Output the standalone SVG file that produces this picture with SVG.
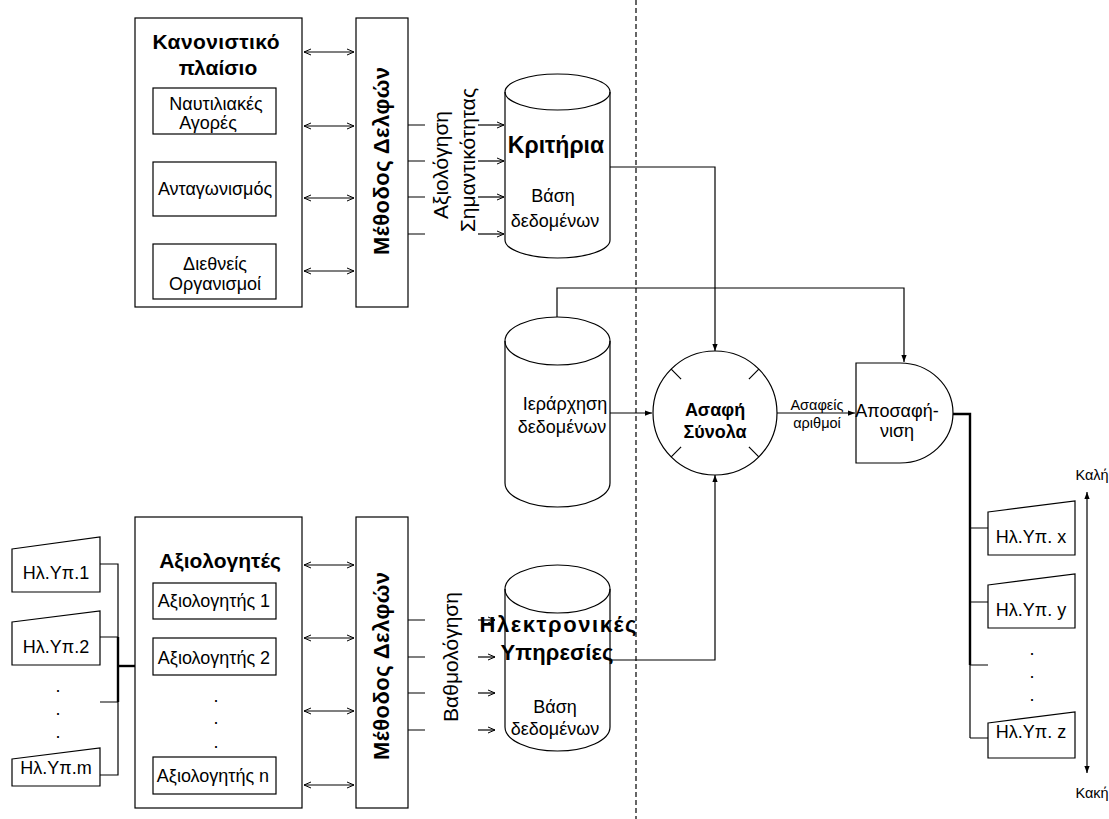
<svg xmlns="http://www.w3.org/2000/svg" width="1109" height="819" viewBox="0 0 1109 819">
  <style>
    .box { fill: #fff; stroke: #000; stroke-width: 1.2; }
    .ln { fill: none; stroke: #000; stroke-width: 1.2; }
    .thick { fill: none; stroke: #000; stroke-width: 2.4; }
    .dash { fill: none; stroke: #000; stroke-width: 1.2; stroke-dasharray: 5 3; }
    text { font-family: "Liberation Sans", Arial, sans-serif; fill: #000; }
    .t { font-size: 18px; text-anchor: middle; }
    .b { font-weight: bold; text-anchor: middle; }
    .s { font-size: 14.5px; text-anchor: middle; }
  </style>
  <defs>
    <marker id="v" viewBox="0 0 8 8" refX="8" refY="4" markerWidth="8" markerHeight="8" markerUnits="userSpaceOnUse" orient="auto-start-reverse">
      <path d="M1,1 L8,4 L1,7" fill="none" stroke="#000" stroke-width="1"/>
    </marker>
    <marker id="f" viewBox="0 0 8 8" refX="8" refY="4" markerWidth="7" markerHeight="7" markerUnits="userSpaceOnUse" orient="auto-start-reverse">
      <path d="M0,1 L8,4 L0,7 z" fill="#000"/>
    </marker>
  </defs>

  <!-- dashed divider -->
  <line class="dash" x1="636" y1="0" x2="636" y2="819"/>

  <!-- regulatory framework -->
  <g id="regulatory">
    <rect class="box" x="135" y="18" width="167" height="289"/>
    <text class="b" font-size="21" x="216" y="49" textLength="127" lengthAdjust="spacing">Κανονιστικό</text>
    <text class="b" font-size="21" x="218" y="75">πλαίσιο</text>
    <rect class="box" x="153" y="88" width="123" height="46"/>
    <text class="t" x="216" y="110">Ναυτιλιακές</text>
    <text class="t" x="208" y="129">Αγορές</text>
    <rect class="box" x="153" y="162" width="123" height="54"/>
    <text class="t" x="215" y="195">Ανταγωνισμός</text>
    <rect class="box" x="153" y="244" width="123" height="55"/>
    <text class="t" x="215" y="270">Διεθνείς</text>
    <text class="t" x="215" y="290">Οργανισμοί</text>
  </g>

  <!-- Delphi method (top) -->
  <g id="delphi-top">
    <rect class="box" x="356" y="18" width="52" height="289"/>
    <text class="b" font-size="22" transform="translate(389,161) rotate(-90)" textLength="188" lengthAdjust="spacing">Μέθοδος Δελφών</text>
  </g>

  <!-- importance assessment label -->
  <g id="importance-label">
    <text font-size="21" text-anchor="middle" transform="translate(448,165) rotate(-90)">Αξιολόγηση</text>
    <text font-size="21" text-anchor="middle" transform="translate(475,160) rotate(-90)">Σημαντικότητας</text>
  </g>

  <!-- criteria database -->
  <g id="criteria-db">
    <path class="box" d="M505,92 L505,240 A52.5,18 0 0 0 610,240 L610,92 A52.5,18 0 0 0 505,92 Z"/>
    <path class="ln" d="M505,92 A52.5,18 0 0 0 610,92"/>
    <text class="b" font-size="23" x="556" y="153">Κριτήρια</text>
    <text class="t" x="553" y="202">Βάση</text>
    <text class="t" x="555" y="227">δεδομένων</text>
  </g>

  <!-- hierarchy database -->
  <g id="hierarchy-db">
    <path class="box" d="M505,341 L505,483 A52.5,24 0 0 0 610,483 L610,341 A52.5,24 0 0 0 505,341 Z"/>
    <path class="ln" d="M505,341 A52.5,24 0 0 0 610,341"/>
    <text class="t" x="565" y="410">Ιεράρχηση</text>
    <text class="t" x="562" y="433">δεδομένων</text>
  </g>

  <!-- fuzzy sets -->
  <g id="fuzzy-sets">
    <circle class="box" cx="715" cy="413" r="62"/>
    <path class="ln" d="M671.2,369.2 L681.1,379.1 M758.8,369.2 L748.9,379.1 M671.2,456.8 L681.1,446.9 M758.8,456.8 L748.9,446.9"/>
    <text class="b" font-size="18" x="715" y="416">Ασαφή</text>
    <text class="b" font-size="18" x="715" y="438">Σύνολα</text>
  </g>

  <!-- defuzzification -->
  <g id="defuzzification">
    <path class="box" d="M856,363 L900,363 A53,50 0 0 1 900,463 L856,463 Z"/>
    <text font-size="18" text-anchor="middle" x="897" y="417">Αποσαφή-</text>
    <text font-size="18" text-anchor="middle" x="897" y="437">νιση</text>
  </g>

  <!-- evaluators -->
  <g id="evaluators">
    <rect class="box" x="135" y="517" width="167" height="291"/>
    <text class="b" font-size="21" x="220" y="568">Αξιολογητές</text>
    <rect class="box" x="153" y="583" width="123" height="36"/>
    <text class="t" x="214" y="607">Αξιολογητής 1</text>
    <rect class="box" x="153" y="638" width="123" height="37"/>
    <text class="t" x="214" y="664">Αξιολογητής 2</text>
    <text class="t" x="216" y="702">.</text>
    <text class="t" x="216" y="724">.</text>
    <text class="t" x="216" y="748">.</text>
    <rect class="box" x="153" y="757" width="123" height="37"/>
    <text class="t" x="213" y="782">Αξιολογητής n</text>
  </g>

  <!-- Delphi method (bottom) -->
  <g id="delphi-bottom">
    <rect class="box" x="356" y="517" width="52" height="291"/>
    <text class="b" font-size="22" transform="translate(389,666) rotate(-90)" textLength="188" lengthAdjust="spacing">Μέθοδος Δελφών</text>
  </g>

  <!-- scoring label -->
  <g id="scoring-label">
    <text font-size="21" text-anchor="middle" transform="translate(458,657) rotate(-90)">Βαθμολόγηση</text>
  </g>

  <!-- e-services database -->
  <g id="eservices-db">
    <path class="box" d="M505,589 L505,727 A52.5,24 0 0 0 610,727 L610,589 A52.5,24 0 0 0 505,589 Z"/>
    <path class="ln" d="M505,589 A52.5,24 0 0 0 610,589"/>
    <text class="b" font-size="22" x="558" y="632" textLength="157" lengthAdjust="spacing">Ηλεκτρονικές</text>
    <text class="b" font-size="22" x="557" y="660" textLength="113" lengthAdjust="spacing">Υπηρεσίες</text>
    <text class="t" x="555" y="713">Βάση</text>
    <text class="t" x="555" y="735">δεδομένων</text>
  </g>

  <!-- input e-services -->
  <g id="service-1">
    <polygon class="box" points="12,549 100,537 100,592 12,592"/>
    <text class="t" x="56" y="579" font-size="18">Ηλ.Υπ.1</text>
  </g>
  <g id="service-2">
    <polygon class="box" points="12,622 100,611 100,665 12,665"/>
    <text class="t" x="56" y="653">Ηλ.Υπ.2</text>
  </g>
  <g id="service-dots">
    <text class="t" x="58" y="692">.</text>
    <text class="t" x="58" y="715">.</text>
    <text class="t" x="58" y="738">.</text>
  </g>
  <g id="service-m">
    <polygon class="box" points="12,759 100,748 100,786 12,786"/>
    <text class="t" x="56" y="774">Ηλ.Υπ.m</text>
  </g>

  <!-- ranked e-services -->
  <g id="ranked-x">
    <polygon class="box" points="988,512 1075,501 1075,555 988,555"/>
    <text class="t" x="1031" y="543">Ηλ.Υπ. x</text>
  </g>
  <g id="ranked-y">
    <polygon class="box" points="988,585 1075,574 1075,628 988,628"/>
    <text class="t" x="1031" y="616">Ηλ.Υπ. y</text>
  </g>
  <g id="ranked-dots">
    <text class="t" x="1032" y="655">.</text>
    <text class="t" x="1032" y="678">.</text>
    <text class="t" x="1032" y="701">.</text>
  </g>
  <g id="ranked-z">
    <polygon class="box" points="988,723 1075,712 1075,758 988,758"/>
    <text class="t" x="1031" y="738">Ηλ.Υπ. z</text>
  </g>

  <!-- ranking scale -->
  <g id="scale">
    <text class="s" x="1092" y="480">Καλή</text>
    <text class="s" x="1092" y="798">Κακή</text>
  </g>

  <!-- fuzzy numbers label -->
  <g id="fuzzy-numbers-label">
    <text class="s" x="817" y="410">Ασαφείς</text>
    <text class="s" x="817" y="428">αριθμοί</text>
  </g>

  <g id="connectors">
    <!-- regulatory framework <-> Delphi -->
    <line class="ln" x1="304" y1="52" x2="354" y2="52" marker-start="url(#v)" marker-end="url(#v)"/>
    <line class="ln" x1="304" y1="126" x2="354" y2="126" marker-start="url(#v)" marker-end="url(#v)"/>
    <line class="ln" x1="304" y1="198" x2="354" y2="198" marker-start="url(#v)" marker-end="url(#v)"/>
    <line class="ln" x1="304" y1="271" x2="354" y2="271" marker-start="url(#v)" marker-end="url(#v)"/>
    <!-- Delphi -> criteria -->
    <path class="ln" d="M408,125 H425 M408,161 H425 M408,197 H425 M408,234 H425"/>
    <line class="ln" x1="478" y1="125" x2="504" y2="125" marker-end="url(#v)"/>
    <line class="ln" x1="478" y1="161" x2="504" y2="161" marker-end="url(#v)"/>
    <line class="ln" x1="478" y1="197" x2="504" y2="197" marker-end="url(#v)"/>
    <line class="ln" x1="478" y1="234" x2="504" y2="234" marker-end="url(#v)"/>
    <!-- criteria -> fuzzy sets -->
    <polyline class="ln" points="610,167 715,167 715,351" marker-end="url(#f)"/>
    <!-- hierarchy -> defuzzification -->
    <polyline class="ln" points="557,317 557,288 904,288 904,362" marker-end="url(#f)"/>
    <!-- hierarchy -> fuzzy sets -->
    <line class="ln" x1="610" y1="413" x2="652" y2="413" marker-end="url(#f)"/>
    <!-- e-services -> fuzzy sets -->
    <polyline class="ln" points="610,660 715,660 715,475" marker-end="url(#f)"/>
    <!-- fuzzy sets -> defuzzification -->
    <line class="ln" x1="777" y1="413" x2="855" y2="413" marker-end="url(#f)"/>
    <!-- defuzzification -> ranking -->
    <polyline class="thick" points="953,414 970,414 970,665"/>
    <line class="ln" x1="970" y1="665" x2="970" y2="738"/>
    <path class="ln" d="M970,528 H988 M970,602 H988 M970,665 H988 M970,738 H988"/>
    <!-- ranking scale arrow -->
    <line class="ln" x1="1087" y1="492" x2="1087" y2="773" marker-start="url(#f)" marker-end="url(#f)"/>
    <!-- input services -> evaluators -->
    <path class="ln" d="M100,564 H118 V775 H100 M100,637 H118 M100,702 H118"/>
    <line class="thick" x1="118" y1="637" x2="118" y2="702"/>
    <line class="thick" x1="118" y1="666" x2="135" y2="666"/>
    <!-- evaluators <-> Delphi -->
    <line class="ln" x1="304" y1="565" x2="354" y2="565" marker-start="url(#v)" marker-end="url(#v)"/>
    <line class="ln" x1="304" y1="638" x2="354" y2="638" marker-start="url(#v)" marker-end="url(#v)"/>
    <line class="ln" x1="304" y1="711" x2="354" y2="711" marker-start="url(#v)" marker-end="url(#v)"/>
    <line class="ln" x1="304" y1="785" x2="354" y2="785" marker-start="url(#v)" marker-end="url(#v)"/>
    <!-- Delphi -> e-services -->
    <path class="ln" d="M408,620 H425 M408,657 H425 M408,693 H425 M408,730 H425"/>
    <line class="ln" x1="478" y1="620" x2="495" y2="620" marker-end="url(#v)"/>
    <line class="ln" x1="478" y1="657" x2="495" y2="657" marker-end="url(#v)"/>
    <line class="ln" x1="478" y1="693" x2="495" y2="693" marker-end="url(#v)"/>
    <line class="ln" x1="478" y1="730" x2="495" y2="730" marker-end="url(#v)"/>
  </g>
</svg>
